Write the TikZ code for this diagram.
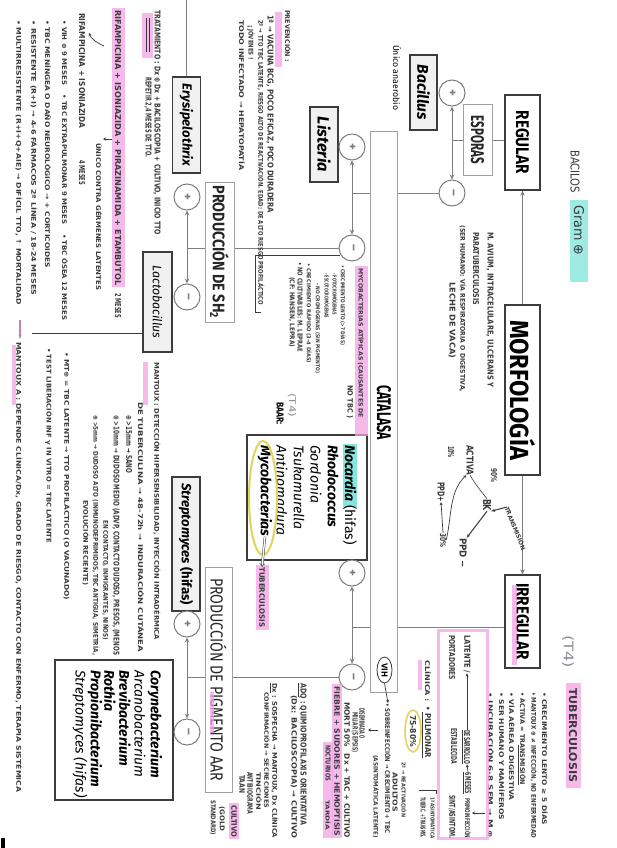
\documentclass[tikz,border=0pt]{standalone}
\usepackage{fontspec}
\setmainfont{Fira Sans}
\newfontfamily\hwfont{DejaVu Sans}
\usetikzlibrary{arrows.meta,shapes.geometric}
\definecolor{pinkhl}{HTML}{F2A2E6}
\definecolor{cyanhl}{HTML}{86E6DD}
\definecolor{yellowhl}{HTML}{E3D35A}
\definecolor{ink}{HTML}{3A3A3A}
\definecolor{conn}{HTML}{7E7E7E}
\definecolor{boxline}{HTML}{3C3C3C}
\definecolor{lightline}{HTML}{A0A0A0}
\definecolor{boxfill}{HTML}{F1F1F1}
\definecolor{pencil}{HTML}{8C8C9C}
\newcommand\hwt[3][6]{\resizebox{#2pt}{#1pt}{\hwfont\bfseries #3}}
\newcommand\fitbox[3]{\resizebox{#1pt}{#2pt}{#3}}
\begin{document}
\begin{tikzpicture}[x=1pt,y=1pt,
  darkbox/.style={draw=boxline,line width=1.3pt,fill=white,inner sep=0pt,text=black},
  greybox/.style={draw=lightline,line width=1pt,fill=white,inner sep=0pt,text=black!85},
  spbox/.style={darkbox,fill=boxfill},
  circ/.style={circle,draw=conn,line width=1pt,fill=white,minimum size=26pt,inner sep=0pt,text=conn,font=\bfseries\fontsize{13}{13}\selectfont},
  conn/.style={draw=conn,line width=1pt},
  arr/.style={conn,-{Stealth[length=5pt,width=4.5pt]}},
  hwn/.style={inner sep=0pt,text=ink,anchor=west},
  hwa/.style={draw=ink,line width=0.7pt,-{Stealth[length=3pt,width=3pt]}},
  sptext/.style={inner sep=0pt,anchor=west,font=\bfseries\itshape\fontsize{14}{14}\selectfont},
  spthin/.style={sptext,font=\mdseries\itshape\fontsize{14}{14}\selectfont},
  hl/.style={fill=pinkhl,opacity=0.75},
]
\useasboundingbox (0,0) rectangle (616,-848);
\fill[white] (0,0) rectangle (616,-848);
\begin{scope}[rotate=-90,transform shape]
% ---------------- printed diagram ----------------
\node[darkbox,minimum width=170pt,minimum height=35pt] (morf) at (390,522.5) {\fitbox{140}{25}{\bfseries MORFOLOGÍA}};
\node[darkbox,minimum width=95pt,minimum height=35pt] (reg) at (142.5,522.5) {\fitbox{63}{13}{\bfseries REGULAR}};
\node[darkbox,minimum width=93pt,minimum height=35pt] (irreg) at (621.5,522.5) {\fitbox{77}{13}{\bfseries IRREGULAR}};
\fill[hl] (585,512) rectangle (665,517);
\node[greybox,minimum width=70pt,minimum height=29pt] (espo) at (140,477.5) {\fitbox{48}{13}{\bfseries ESPORAS}};
\node[greybox,minimum width=560pt,minimum height=27pt] (cat) at (412,383.5) {};
\node[inner sep=0pt] (catl) at (412.5,384) {\fitbox{55}{14}{\bfseries CATALASA}};
\node[greybox,minimum width=140pt,minimum height=29pt] (sh2) at (252,219.5) {\fitbox{133}{16}{\bfseries PRODUCCIÓN DE SH\textsubscript{2}}};
\node[greybox,minimum width=225pt,minimum height=27pt] (pig) at (679.5,218.5) {\fitbox{203}{16}{PRODUCCIÓN DE PIGMENTO AAR}};
\fill[hl] (692,210) rectangle (733,214);
\node[spbox,minimum width=75pt,minimum height=27pt] (bac) at (92.5,423.5) {\resizebox{55pt}{!}{\bfseries\itshape Bacillus}};
\node[spbox,minimum width=75pt,minimum height=28pt] (list) at (144.5,324) {\resizebox{55pt}{!}{\bfseries\itshape Listeria}};
\node[spbox,minimum width=96pt,minimum height=28pt] (erys) at (125,186.5) {\resizebox{82pt}{!}{\bfseries\itshape Erysipelothrix}};
\node[spbox,minimum width=100pt,minimum height=29pt] (lact) at (302,157.5) {\resizebox{73pt}{!}{\itshape Lactobacillus}};
\node[spbox,minimum width=134pt,minimum height=28pt] (strep) at (544,186) {\resizebox{122pt}{!}{\bfseries\itshape Streptomyces \upshape(hifas)}};
% Nocardia group
\node[darkbox,minimum width=125pt,minimum height=120pt] (noc) at (497.5,307) {};
\fill[cyanhl] (444,343) rectangle (507,357);
\node[sptext] (n1) at (445,350) {Nocardia \mdseries\upshape(hifas)};
\node[sptext] (n2) at (445,333) {Rhodococcus};
\node[spthin] (n3) at (445,316) {Gordonia};
\node[spthin] (n4) at (445,299) {Tsukamurella};
\node[spthin] (n5) at (445,282) {Antinomadura};
\node[sptext] (n6) at (445,265) {Mycobacterias};
\draw[yellowhl,line width=2pt] (498,263) ellipse (57 and 14);
% Corynebacterium group
\node[darkbox,minimum width=140pt,minimum height=118pt] (cory) at (730,114) {};
\node[sptext] (c1) at (670,155) {Corynebacterium};
\node[spthin] (c2) at (670,140) {Arcanobacterium};
\node[sptext] (c3) at (670,125) {Brevibacterium};
\node[sptext] (c4) at (670,110) {Rothia};
\node[sptext] (c5) at (670,95) {Propionibacterium};
\node[spthin] (c6) at (670,80) {Streptomyces (hifas)};
% circles
\node[circ] (ep) at (93,452) {+};
\node[circ] (em) at (193,452) {–};
\node[circ] (c1p) at (147,352) {+};
\node[circ] (c1m) at (248,352) {–};
\node[circ] (sp) at (197,187) {+};
\node[circ] (sm) at (297,187) {–};
\node[circ] (c2p) at (573,352) {+};
\node[circ] (c2m) at (677,352) {–};
\node[circ] (pp) at (624,187) {+};
\node[circ] (pm) at (732,187) {–};
% connectors
\draw[arr] (morf.west) -- (reg.east);
\draw[arr] (morf.east) -- (irreg.west);
\draw[conn] (espo.north) -- (espo.north |- reg.south);
\coordinate (ej) at (140,452);
\draw[conn] (espo.south) -- (ej);
\draw[arr] (ej) -- (ep);
\draw[arr] (ej) -- (em);
\draw[conn] (em) -- (em |- cat.north);
\coordinate (c1j) at (193,352);
\draw[conn] (c1j |- cat.south) -- (c1j);
\draw[arr] (c1j) -- (c1p);
\draw[arr] (c1j) -- (c1m);
\draw[conn] (c1m) -- (c1m |- sh2.north);
\coordinate (sj) at (248,187);
\draw[conn] (sj |- sh2.south) -- (sj);
\draw[arr] (sj) -- (sp);
\draw[arr] (sj) -- (sm);
\coordinate (c2j) at (627,352);
\draw[conn] (c2j |- irreg.south) -- (c2j |- cat.north);
\draw[conn] (c2j |- cat.south) -- (c2j);
\draw[arr] (c2j) -- (c2p);
\draw[arr] (c2j) -- (c2m);
\draw[conn] (c2m) -- (c2m |- pig.north);
\coordinate (pj) at (677,187);
\draw[conn] (pj |- pig.south) -- (pj);
\draw[arr] (pj) -- (pp);
\draw[arr] (pj) -- (pm);
\coordinate (edgeT) at (0,186.5);
\draw[conn] (edgeT) -- (erys.west);
\coordinate (lactend) at (333,32);
\draw[draw=ink,line width=0.9pt] (lactend |- lact.south) -- (lactend);
\node[inner sep=0pt,anchor=west] (unico) at (45,397) {\resizebox{65pt}{!}{\fontsize{9}{9}\selectfont Único anaerobio}};
\node[inner sep=0pt,anchor=west] (baar) at (402,280) {\resizebox{22pt}{7pt}{\bfseries BAAR:}};
% ---------------- title ----------------
\node[hwn] (ttl1) at (150,575) {\resizebox{43pt}{9pt}{\hwfont BACILOS}};
\fill[cyanhl,opacity=0.8] (200,570) rectangle (282,588);
\node[hwn] (ttl2) at (205,579) {\resizebox{50pt}{10pt}{\hwfont Gram ⊕}};
\node[hwn,text=pencil] (t4b) at (635,568) {\resizebox{33pt}{10pt}{\hwfont (T4)}};
% ---------------- tuberculosis list ----------------
\fill[hl] (683,566) rectangle (788,581);
\node[hwn] (tbc1) at (688,573) {\hwt[8]{94}{TUBERCULOSIS}};
\node[hwn] (r1) at (692,545) {\hwt{133}{• CRECIMIENTO LENTO ≥ 5 DÍAS}};
\node[hwn] (r2) at (692,534) {\hwt{146}{• MANTOUX ⊕ ≠ INFECCIÓN, NO ENFERMEDAD}};
\node[hwn] (r3) at (692,523) {\hwt{93}{• ACTIVA = TRANSMISIÓN}};
\draw[ink,line width=0.6pt] (745,518.5) -- (785,518.5);
\node[hwn] (r4) at (692,512) {\hwt{108}{• VÍA AÉREA O DIGESTIVA}};
\node[hwn] (r5) at (692,502) {\hwt{128}{• SER HUMANO Y MAMÍFEROS}};
\node[hwn] (r6) at (692,491) {\hwt{146}{• INCUBACIÓN 6-8 SEM → M ⊕}};
\coordinate (dnA) at (813,485); \coordinate (dnB) at (813,472);
\draw[hwa] (dnA) -- (dnB);
\draw[pinkhl,line width=3pt,opacity=0.75] (630,438) rectangle (838,487);
\node[hwn] (b1) at (635,467) {\hwt{38}{LATENTE /}};
\node[hwn] (b2) at (730,467) {\hwt{34}{DESARROLLO}};
\node[hwn] (b3) at (772,468) {\hwt{22}{6 MESES}};
\node[hwn] (b4) at (798,468) {\hwt{40}{PRIMOINFECCIÓN}};
\draw[hwa] (b2.west) -- (b1.east);
\draw[hwa] (b3.west) -- (b2.east);
\draw[ink,line width=0.5pt] (730,462) -- (764,462) (772,463) -- (794,463);
\node[hwn] (b5) at (635,452) {\hwt{45}{PORTADORES}};
\node[hwn] (b6) at (728,454) {\hwt{36}{ESTABLECIDA}};
\node[hwn] (b7) at (795,452) {\hwt{43}{SINT/ASINTOM.}};
% clinica
\node[hwn] (cl1) at (660,428) {\hwt{42}{CLÍNICA :}};
\fill[hl] (660,418) rectangle (690,422);
\node[hwn] (cl2) at (706,428) {\hwt{52}{• PULMONAR}};
\draw[ink,line width=0.5pt] (712,422.5) -- (758,422.5);
\node[hwn] (cl3) at (715,413) {\hwt{32}{75-80\%}};
\draw[yellowhl,line width=1.6pt] (731,413) ellipse (21 and 8);
\node[hwn] (cl4) at (797,433) {\hwt[5]{41}{1ª ASINTOMÁTICA}};
\node[hwn] (cl5) at (797,423) {\hwt[5]{41}{TUBERC. + TRANSMIS.}};
\draw[ink,line width=0.6pt] (794,436) -- (790,436) -- (790,419);
\node[hwn] (cl6) at (762,404) {\hwt[5]{55}{2ª → REACTIVACIÓN}};
\node[hwn] (cl7) at (772,395) {\hwt[5]{40}{ADULTOS}};
% VIH etc
\node[ellipse,draw=ink,line width=0.8pt,inner sep=0pt,minimum width=26pt,minimum height=15pt] (vih) at (670,384.5) {\hwt[6]{14}{VIH}};
\node[hwn] (q1) at (703,388) {\hwt{130}{• SOBREINFECCIÓN → CRECIMIENTO + TBC}};
\draw[hwa] (vih.east) -- (q1.west);
\node[hwn] (q2) at (755,376) {\hwt[5.5]{83}{(ASINTOMÁTICA LATENTE)}};
\coordinate (dn2A) at (730,378); \coordinate (dn2B) at (730,368);
\draw[hwa] (dn2A) -- (dn2B);
\node[hwn] (q3) at (708,362) {\hwt[5.5]{30}{DISEMINADA O}};
\node[hwn] (q4) at (712,355) {\hwt[5.5]{40}{MILIAR (SEPSIS)}};
\node[hwn] (q5) at (702,347) {\hwt[5.5]{136}{MORT 50\% \; Dx + TAC + CULTIVO}};
\fill[hl] (684,332) rectangle (838,342);
\fill[hl] (742,323) rectangle (838,333);
\node[hwn] (q6) at (686,337) {\hwt[5.5]{150}{FIEBRE + SUDORES + HEMOPTISIS}};
\node[hwn] (q7) at (745,328) {\hwt[5]{36}{NOCTURNOS}};
\node[hwn] (q8) at (800,328) {\hwt[5]{30}{TARDÍA}};
\node[hwn] (q9) at (683,303) {\hwt{142}{ADQ : QUIMIOPROFILAXIS ORIENTATIVA}};
\draw[ink,line width=0.5pt] (683,298) -- (697,298);
\node[hwn] (q10) at (695,294) {\hwt[5.5]{143}{(Dx: BACILOSCOPIA) → CULTIVO}};
\node[hwn] (q11) at (683,275) {\hwt{155}{Dx : SOSPECHA → MANTOUX, Dx CLÍNICA}};
\draw[ink,line width=0.5pt] (683,270) -- (693,270);
\node[hwn] (q12) at (692,267) {\hwt[5.5]{116}{CONFIRMACIÓN → SECRECIONES}};
\node[hwn] (q13) at (772,259) {\hwt[5.5]{38}{TINCIÓN}};
\node[hwn] (q14) at (772,250) {\hwt[5.5]{42}{ANTIBIOGRAMA}};
\node[hwn] (q15) at (775,242) {\hwt[5.5]{18}{TAAN}};
\fill[hl] (803,229) rectangle (839,239);
\node[hwn] (q16) at (805,234) {\hwt[5.5]{32}{CULTIVO}};
\node[hwn] (q17) at (806,222) {\hwt[5]{25}{(GOLD}};
\node[hwn] (q18) at (800,213) {\hwt[5]{35}{STANDARD)}};
% ---------------- cycle doodle ----------------
\node[hwn,rotate=22] (trm) at (507,507) {\hwt[5.5]{46}{TRANSMISIÓN}};
\node[hwn,anchor=center] (bk) at (505,487) {\hwt[8]{12}{BK}};
\draw[ink,line width=1pt,-{Stealth[length=4pt]}] (trm.west) -- (bk.north east);
\node[hwn,anchor=center] (pct90) at (475,494) {\hwt[6]{14}{90\%}};
\node[hwn,anchor=center] (act) at (460,470) {\hwt[7]{30}{ACTIVA}};
\draw[ink,line width=0.6pt] (bk.west) .. controls (490,480) and (482,474) .. (act.east);
\node[hwn,anchor=center] (pct10) at (452,451) {\hwt[6]{12}{10\%}};
\node[hwn,anchor=center] (ppdp) at (492,441) {\hwt[7]{20}{PPD+}};
\node[hwn,anchor=center] (pct30) at (540,443) {\hwt[6]{14}{30\%}};
\draw[hwa] (pct30.west) -- (ppdp.east);
\node[hwn,anchor=center] (ppdm) at (553,463) {\hwt[7]{30}{PPD −}};
\draw[ink,line width=1pt,-{Stealth[length=4pt]}] (bk.east) -- (ppdm.north west);
\draw[hwa] (pct30.north) .. controls (515,452) and (492,449) .. (act.south east);
% ---------------- notes near MORFOLOGIA ----------------
\node[hwn] (nn1) at (232,490) {\hwt{155}{M. AVIUM, INTRACELULARE, ULCERANS Y}};
\node[hwn] (nn2) at (232,476) {\hwt{73}{PARATUBERCULOSIS}};
\node[hwn] (nn3) at (225,463) {\hwt{167}{(SER HUMANO: VÍA RESPIRATORIA O DIGESTIVA,}};
\node[hwn] (nn4) at (282,452) {\hwt{76}{LECHE DE VACA)}};
% ---------------- mycobacterias notes ----------------
\fill[hl] (266,355) rectangle (436,368);
\node[hwn] (m0) at (268,361) {\hwt[5.5]{150}{MYCOBACTERIAS ATÍPICAS (CAUSANTES DE}};
\node[hwn] (m1) at (385,350) {\hwt[5.5]{33}{NO TBC )}};
\node[hwn] (m2) at (265,343) {\hwt[5]{80}{• CRECIMIENTO LENTO (>7 DÍAS)}};
\node[hwn] (m3) at (273,335) {\hwt[5]{42}{- FOTOCROMÓGENAS}};
\node[hwn] (m4) at (273,327) {\hwt[5]{45}{- ESCOTOCROMÓGENAS}};
\node[hwn] (m5) at (283,318) {\hwt[5]{90}{- NO CROMÓGENAS (SIN PIGMENTO)}};
\node[hwn] (m6) at (263,309) {\hwt[5]{100}{• CRECIMIENTO RÁPIDO (3-4 DÍAS)}};
\node[hwn] (m7) at (262,300) {\hwt[5]{90}{• NO CULTIVABLES: M. LEPRAE}};
\node[hwn] (m8) at (277,292) {\hwt[5]{70}{(CF: HANSEN, LEPRA)}};
\node[hwn,text=pencil] (m9) at (393,292) {\resizebox{24pt}{7pt}{\hwfont (T4)}};
\fill[hl] (565,256) rectangle (630,269);
\node[hwn] (tbc2) at (567,262) {\hwt[5.5]{60}{TUBERCULOSIS}};
\draw[ink,double,double distance=1.4pt,line width=0.5pt,-{Implies}] (n6.east) -- (tbc2.west);
% ---------------- prevencion ----------------
\node[hwn] (p1) at (10,288) {\hwt{52}{PREVENCIÓN :}};
\fill[hl] (12,275) rectangle (67,282);
\node[hwn] (p2) at (15,270) {\hwt{198}{1ª → VACUNA BCG, POCO EFICAZ, POCO DURADERA}};
\node[hwn] (p3) at (20,261) {\hwt{285}{2ª → TTO TBC LATENTE, RIESGO ALTO DE REACTIVACIÓN. EDAD: DE ALTO RIESGO PROFILÁCTICO}};
\node[hwn] (p4) at (25,251) {\hwt{35}{¡ JÓVENES !}};
\node[hwn] (p5) at (20,242) {\hwt{150}{TODO INFECTADO → HEPATOPATÍA}};
\draw[ink,line width=0.7pt] (255,340) -- (255,255) -- (312,255) -- (312,261);
% ---------------- tratamiento ----------------
\fill[hl] (13,142) rectangle (58,153);
\draw[ink,line width=0.6pt] (18,146) -- (52,146) (18,149) -- (52,149);
\node[hwn] (h1) at (10,157) {\hwt{225}{TRATAMIENTO : Dx ⊕ Dx + BACILOSCOPIA + CULTIVO, INICIO TTO}};
\node[hwn] (h2) at (77,148) {\hwt{80}{REPETIR 2,4 MESES DE TTO.}};
\fill[hl] (8,112) rectangle (287,125);
\node[hwn] (h3) at (10,118) {\hwt{275}{RIFAMPICINA + ISONIAZIDA + PIRAZINAMIDA + ETAMBUTOL}};
\node[hwn] (h4) at (293,118) {\hwt{25}{2 MESES}};
\coordinate (ar1a) at (139,112); \coordinate (ar1b) at (139,103);
\draw[hwa] (ar1a) -- (ar1b);
\node[hwn] (h5) at (143,99) {\hwt{147}{ÚNICO CONTRA GÉRMENES LATENTES}};
\coordinate (cva) at (46,104); \coordinate (cvb) at (33,89);
\draw[hwa] (cva) .. controls (42,95) and (38,91) .. (cvb);
\node[hwn] (h6) at (13,82) {\hwt{115}{RIFAMPICINA + ISONIAZIDA}};
\node[hwn] (h7) at (160,82) {\hwt{25}{4 MESES}};
\node[hwn] (h8) at (20,65) {\hwt{300}{• VIH ⊕ 9 MESES \quad • TBC EXTRAPULMONAR 9 MESES \quad • TBC ÓSEA 12 MESES}};
\node[hwn] (h9) at (20,48) {\hwt{248}{• TBC MENÍNGEA O DAÑO NEUROLÓGICO → + CORTICOIDES}};
\node[hwn] (h10) at (20,34) {\hwt{275}{• RESISTENTE (R+I) → 4-6 FÁRMACOS 2ª LÍNEA / 18-24 MESES}};
\node[hwn] (h11) at (20,19) {\hwt{285}{• MULTIRRESISTENTE (R+I+Q+AIE) → DIFÍCIL TTO, ↑ MORTALIDAD}};
% ---------------- mantoux ----------------
\node[hwn] (k1) at (362,157) {\hwt{278}{MANTOUX : DETECCIÓN HIPERSENSIBILIDAD, INYECCIÓN INTRADÉRMICA}};
\fill[hl] (362,143) rectangle (405,148);
\node[hwn] (k2) at (402,141) {\hwt{250}{DE TUBERCULINA → 48-72h → INDURACIÓN CUTÁNEA}};
\node[hwn] (k3) at (415,129) {\hwt{58}{⊕ >15mm → SANO}};
\node[hwn] (k4) at (415,116) {\hwt{240}{⊕ >10mm → DUDOSO MEDIO (ADVP, CONTACTO DUDOSO, PRESOS, (MENOS}};
\node[hwn] (k5) at (520,106) {\hwt{120}{EN CONTACTO, INMIGRANTES, NIÑOS)}};
\node[hwn] (k6) at (415,96) {\hwt{240}{⊕ >5mm → DUDOSO ALTO (INMUNODEPRIMIDOS, TBC ANTIGUA, SIMETRÍA,}};
\node[hwn] (k7) at (500,86) {\hwt{85}{EVOLUCIÓN RECIENTE)}};
\node[hwn] (k8) at (352,67) {\hwt{248}{• MT⊕ = TBC LATENTE → TTO PROFILÁCTICO (O VACUNADO)}};
\node[hwn] (k9) at (348,49) {\hwt{195}{• TEST LIBERACIÓN INF γ IN VITRO = TBC LATENTE}};
\coordinate (pkA) at (320,20); \coordinate (pkB) at (339,20);
\draw[draw=pinkhl!80!black,line width=1.4pt,-{Stealth[length=4pt]}] (pkA) -- (pkB);
\fill[hl] (345,12) rectangle (405,16);
\node[hwn] (k10) at (342,19) {\hwt{450}{MANTOUX A : DEPENDE CLÍNICA/Dx, GRADO DE RIESGO, CONTACTO CON ENFERMO, TERAPIA SISTÉMICA}};
\fill[black] (838,1) rectangle (848,5);
\end{scope}
\end{tikzpicture}
\end{document}
